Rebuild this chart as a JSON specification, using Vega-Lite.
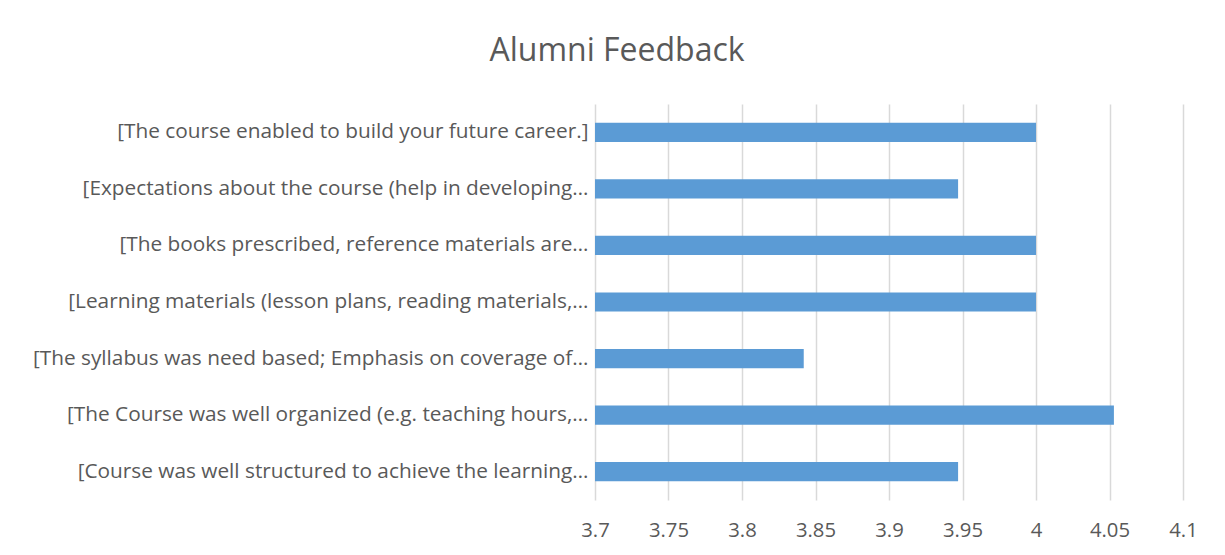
{
  "$schema": "https://vega.github.io/schema/vega-lite/v6.json",
  "autosize": {"type": "none"},
  "width": 588,
  "height": 396,
  "padding": {"left": 595, "top": 104, "right": 42, "bottom": 55},
  "background": "white",
  "title": {
    "text": "Alumni Feedback",
    "font": "Open Sans",
    "fontSize": 32,
    "fontWeight": "normal",
    "color": "#595959",
    "anchor": "middle",
    "frame": "group",
    "dx": -272,
    "offset": 36
  },
  "data": {
    "values": [
      {"q": "[The course enabled to build your future career.]", "v": 4.0},
      {"q": "[Expectations about the course (help in developing…", "v": 3.947},
      {"q": "[The books prescribed, reference materials are…", "v": 4.0},
      {"q": "[Learning materials (lesson plans, reading materials,…", "v": 4.0},
      {"q": "[The syllabus was need based; Emphasis on coverage of…", "v": 3.842},
      {"q": "[The Course was well organized (e.g. teaching hours,…", "v": 4.053},
      {"q": "[Course was well structured to achieve the learning…", "v": 3.947}
    ]
  },
  "mark": {"type": "bar", "color": "#5b9bd5", "clip": true},
  "encoding": {
    "y": {
      "field": "q",
      "type": "nominal",
      "sort": null,
      "scale": {"paddingInner": 0.66, "paddingOuter": 0.33},
      "axis": {
        "title": null,
        "domain": false,
        "ticks": false,
        "labelFont": "Open Sans",
        "labelFontSize": 20.8,
        "labelColor": "#595959",
        "labelLimit": 800,
        "labelPadding": 7
      }
    },
    "x": {
      "field": "v",
      "type": "quantitative",
      "scale": {"domain": [3.7, 4.1], "zero": false, "nice": false},
      "axis": {
        "title": null,
        "values": [3.7, 3.75, 3.8, 3.85, 3.9, 3.95, 4.0, 4.05, 4.1],
        "format": "~g",
        "domain": false,
        "ticks": false,
        "grid": true,
        "gridColor": "#d9d9d9",
        "gridWidth": 1.5,
        "labelFont": "Open Sans",
        "labelFontSize": 20.3,
        "labelColor": "#595959",
        "labelPadding": 20,
        "labelFlush": false
      }
    }
  },
  "config": {"view": {"stroke": null}}
}
